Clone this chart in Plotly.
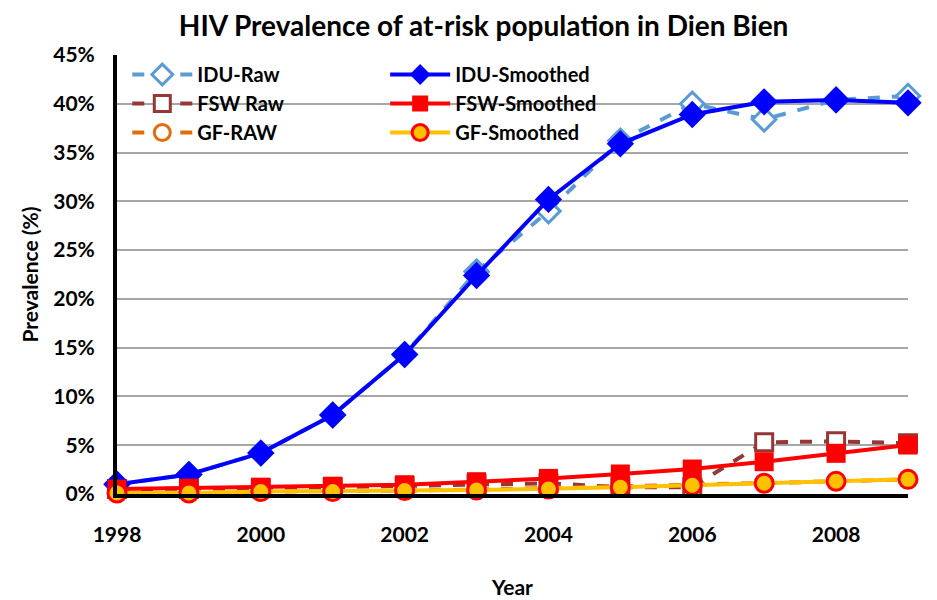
import plotly.graph_objects as go

years = list(range(1998, 2010))
idu_raw = [1.0, 2.0, 4.2, 8.1, 14.3, 22.8, 29.0, 36.2, 40.0, 38.4, 40.4, 40.8]
idu_smooth = [1.0, 2.0, 4.2, 8.1, 14.3, 22.4, 30.2, 35.9, 38.9, 40.2, 40.4, 40.1]
fsw_raw = [0.5, 0.5, 0.6, 0.7, 0.8, 1.0, 1.1, 0.7, 0.7, 5.3, 5.4, 5.2]
fsw_smooth = [0.5, 0.6, 0.7, 0.8, 0.95, 1.26, 1.6, 2.05, 2.56, 3.31, 4.17, 5.02]
gf_raw = [0.1, 0.1, 0.25, 0.25, 0.35, 0.45, 0.6, 0.8, 0.9, 1.1, 1.3, 1.5]
gf_smooth = [0.1, 0.1, 0.25, 0.25, 0.35, 0.4, 0.5, 0.7, 0.9, 1.1, 1.3, 1.5]

x_ticks = [1998, 2000, 2002, 2004, 2006, 2008]
y_ticks = [0, 5, 10, 15, 20, 25, 30, 35, 40, 45]

FONT = "Lato"
BOLD = dict(family=FONT, color="black", weight="bold")

fig = go.Figure()

fig.add_trace(go.Scatter(
    x=years, y=idu_raw, name="IDU-Raw", mode="lines+markers", legend="legend",
    line=dict(color="#5B9BD5", width=4, dash="dash"),
    marker=dict(symbol="diamond", size=18, color="white", line=dict(width=3, color="#5B9BD5")),
    cliponaxis=False))
fig.add_trace(go.Scatter(
    x=years, y=fsw_raw, name="FSW Raw", mode="lines+markers", legend="legend",
    line=dict(color="#953735", width=4, dash="dash"),
    marker=dict(symbol="square", size=17, color="white", line=dict(width=3, color="#953735")),
    cliponaxis=False))
fig.add_trace(go.Scatter(
    x=years, y=gf_raw, name="GF-RAW", mode="lines+markers", legend="legend",
    line=dict(color="#E46C0A", width=4, dash="dash"),
    marker=dict(symbol="circle", size=16, color="white", line=dict(width=3, color="#E46C0A")),
    cliponaxis=False))

fig.add_trace(go.Scatter(
    x=years, y=idu_smooth, name="IDU-Smoothed", mode="lines+markers", legend="legend2",
    line=dict(color="#0000FF", width=4),
    marker=dict(symbol="diamond", size=21, color="#0000FF"),
    cliponaxis=False))
fig.add_trace(go.Scatter(
    x=years, y=fsw_smooth, name="FSW-Smoothed", mode="lines+markers", legend="legend2",
    line=dict(color="#FF0000", width=4),
    marker=dict(symbol="square", size=19, color="#FF0000"),
    cliponaxis=False))
fig.add_trace(go.Scatter(
    x=years, y=gf_smooth, name="GF-Smoothed", mode="lines+markers", legend="legend2",
    line=dict(color="#FFC000", width=4),
    marker=dict(symbol="circle", size=18, color="#FFC000", line=dict(width=3, color="#FF0000")),
    cliponaxis=False))

fig.update_layout(
    width=929, height=592,
    paper_bgcolor="white", plot_bgcolor="white",
    margin=dict(l=109, r=29, t=47, b=106, autoexpand=False),
    font=dict(family=FONT, color="black"),
    title=dict(text="HIV Prevalence of at-risk population in Dien Bien",
               x=0.512, xref="container", xanchor="center", y=1 - 18 / 592, yref="container",
               yanchor="middle", font=dict(size=28, **BOLD)),
    xaxis=dict(range=[1998, 2009], tickvals=x_ticks, ticktext=[str(v) for v in x_ticks],
               tickfont=dict(size=21, **BOLD), automargin=False,
               showgrid=False, zeroline=False, showline=True, linecolor="black", linewidth=4,
               ticks="", ticklabelstandoff=19,
               title=dict(text="Year", font=dict(size=21, **BOLD), standoff=36)),
    yaxis=dict(range=[0, 45], tickvals=y_ticks, ticktext=[f"{v}%" for v in y_ticks],
               tickfont=dict(size=21, **BOLD), automargin=False,
               showgrid=True, gridcolor="#A6A6A6", gridwidth=1.5,
               zeroline=False, showline=True, linecolor="black", linewidth=4, ticks="",
               ticklabelstandoff=14,
               title=dict(text="Prevalence (%)", font=dict(size=21, **BOLD), standoff=10)),
    legend=dict(x=0.013, y=1.0, xanchor="left", yanchor="top", bgcolor="rgba(0,0,0,0)",
                font=dict(size=20, **BOLD), tracegroupgap=0,
                itemwidth=60, traceorder="normal"),
    legend2=dict(x=0.339, y=1.0, xanchor="left", yanchor="top", bgcolor="rgba(0,0,0,0)",
                 font=dict(size=20, **BOLD), tracegroupgap=0,
                 itemwidth=60, traceorder="normal"),
)

fig.write_html("out.html")
